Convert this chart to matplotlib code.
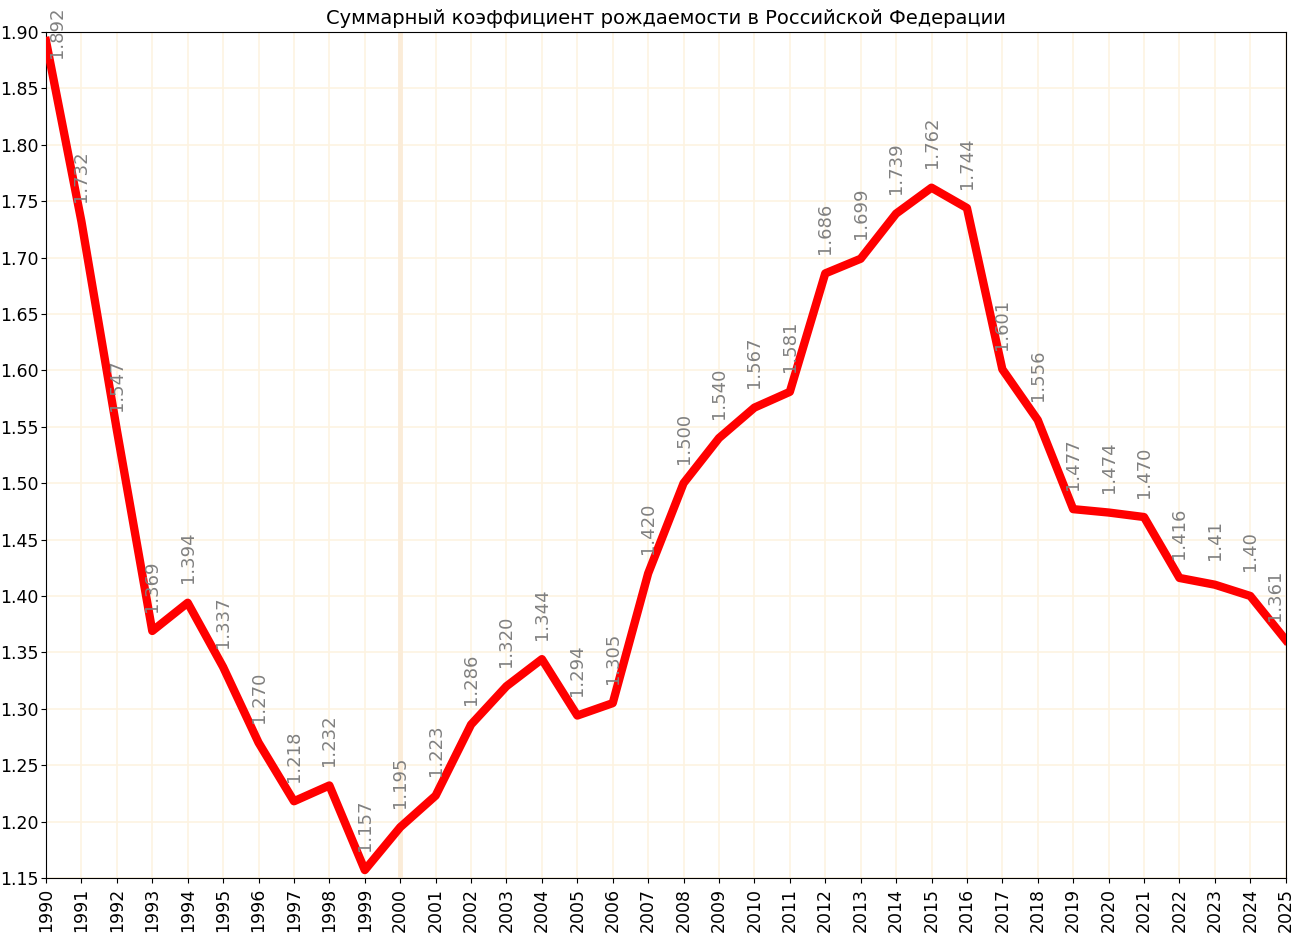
import numpy as np
import matplotlib.pyplot as plt

years = list(range(1990, 2026))
tfr = [1.892, 1.732, 1.547, 1.369, 1.394, 1.337, 1.270, 1.218, 1.232, 1.157,
       1.195, 1.223, 1.286, 1.320, 1.344, 1.294, 1.305, 1.420, 1.500, 1.540,
       1.567, 1.581, 1.686, 1.699, 1.739, 1.762, 1.744, 1.601, 1.556, 1.477,
       1.474, 1.470, 1.416, 1.41, 1.40, 1.361]
labels = ["1.892", "1.732", "1.547", "1.369", "1.394", "1.337", "1.270", "1.218",
          "1.232", "1.157", "1.195", "1.223", "1.286", "1.320", "1.344", "1.294",
          "1.305", "1.420", "1.500", "1.540", "1.567", "1.581", "1.686", "1.699",
          "1.739", "1.762", "1.744", "1.601", "1.556", "1.477", "1.474", "1.470",
          "1.416", "1.41", "1.40", "1.361"]
y_ticks = np.arange(1.15, 1.9001, 0.05)

fig, ax = plt.subplots(figsize=(13, 9.34), dpi=100)
fig.subplots_adjust(left=0.0354, right=0.989, top=0.9657, bottom=0.060)

ax.grid(True, color='#fdf3e2', linewidth=1.2)
ax.axvline(2000, color='#fbecd8', linewidth=3.5, zorder=1)
ax.plot(years, tfr, color='red', linewidth=6, zorder=3)

# value labels, kept inside the axes
for x, v, s in zip(years, tfr, labels):
    lx = min(max(x, years[0] + 0.3), years[-1] - 0.3)
    ly = min(v + 0.04, 1.90)
    ax.text(lx, ly, s, rotation=90, ha='center', va='center',
            color='gray', fontsize=13, zorder=4)

ax.set_xlim(years[0], years[-1])
ax.set_ylim(1.15, 1.90)
ax.set_xticks(years)
ax.set_xticklabels([str(y) for y in years], rotation=90, fontsize=12.5)
ax.set_yticks(y_ticks)
ax.set_yticklabels(["%.2f" % t for t in y_ticks], fontsize=12.5)
ax.tick_params(axis='y', pad=2)
ax.set_axisbelow(True)
ax.set_title("Суммарный коэффициент рождаемости в Российской Федерации", fontsize=14)

plt.savefig("out.png")
